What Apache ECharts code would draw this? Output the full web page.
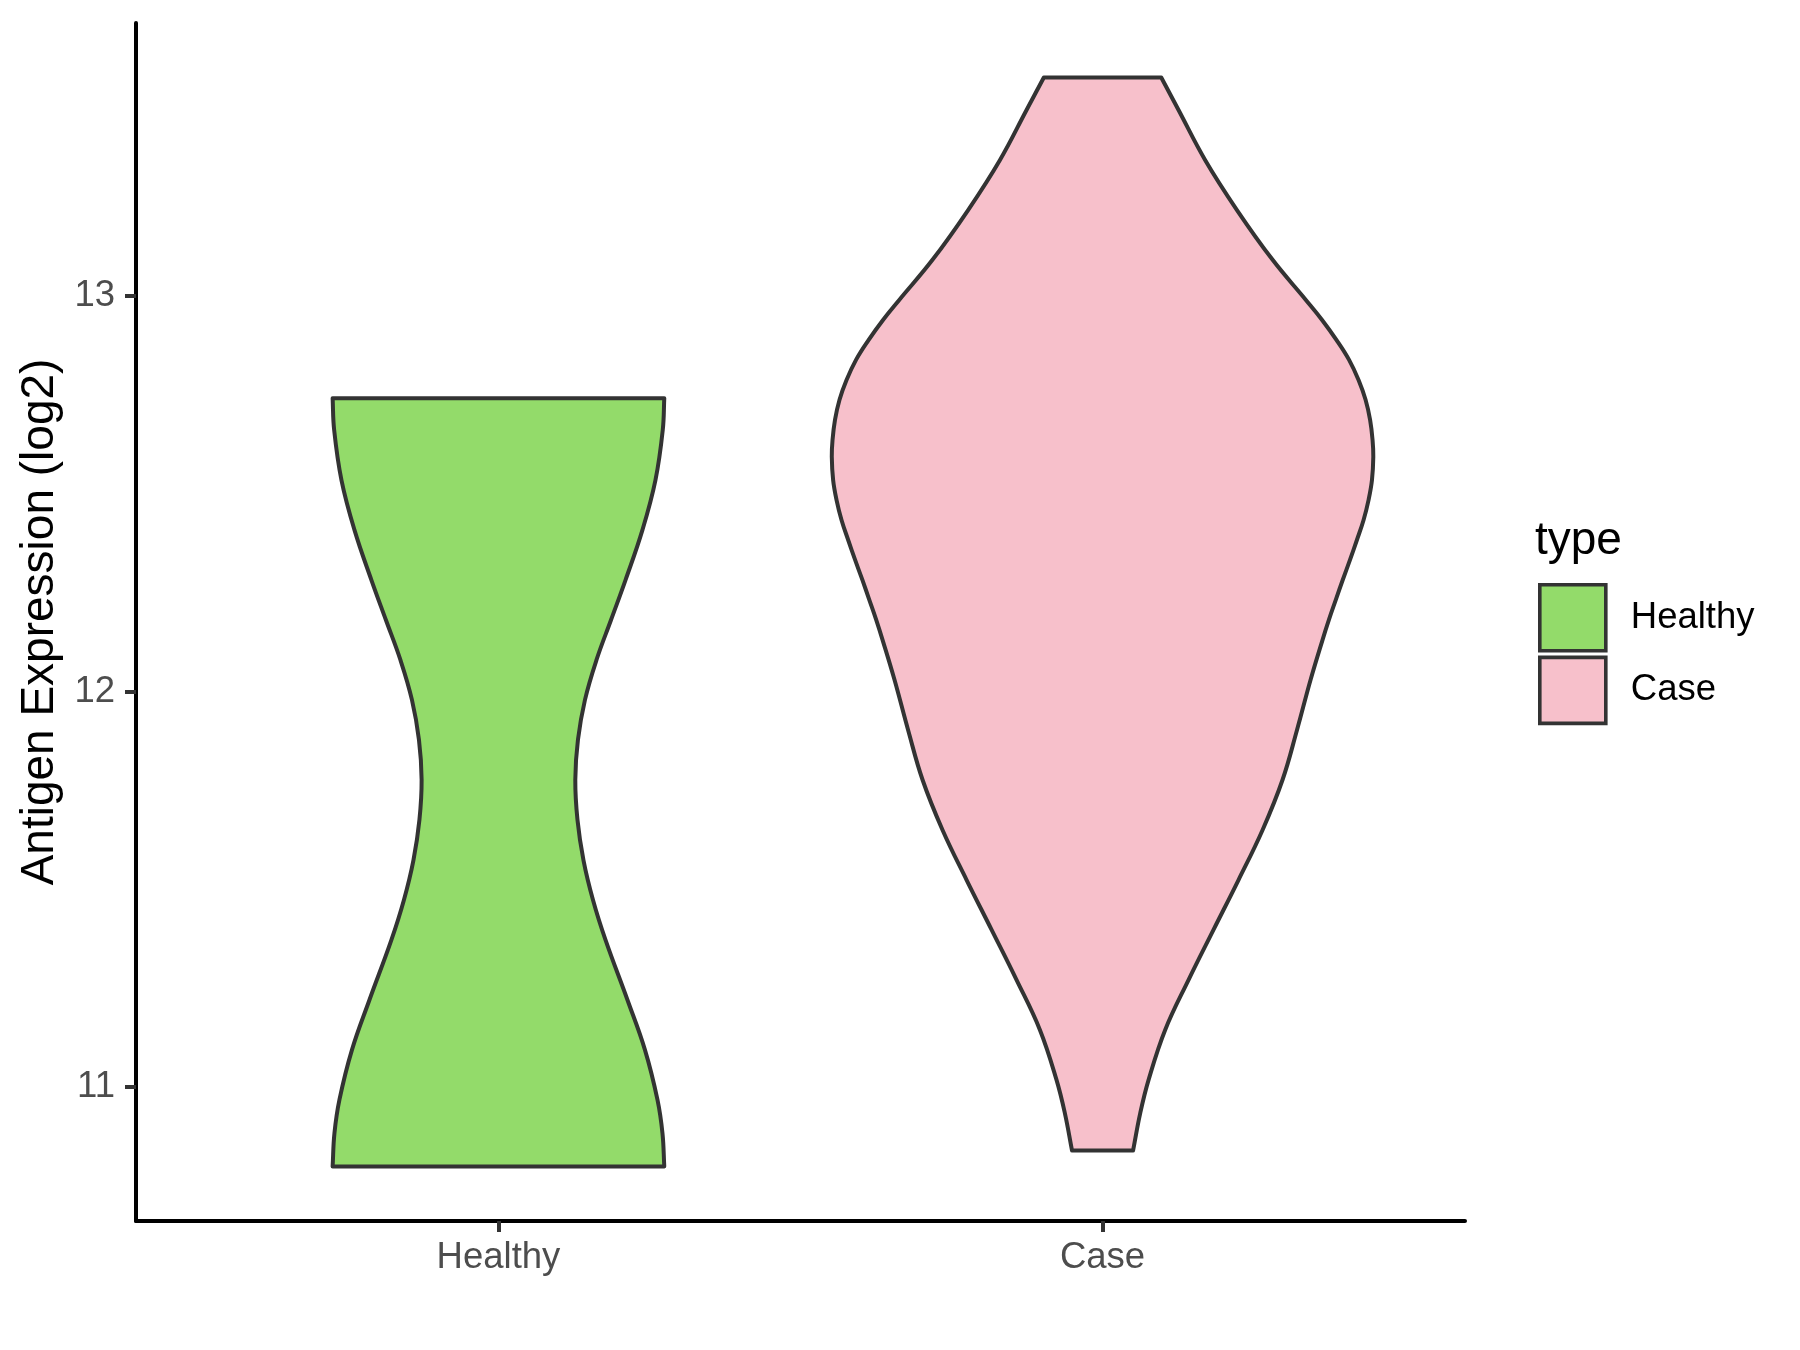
<!DOCTYPE html>
<html>
<head>
<meta charset="utf-8">
<script src="https://cdn.jsdelivr.net/npm/echarts@6/dist/echarts.min.js"></script>
<style>
html, body { margin: 0; padding: 0; background: #ffffff; }
#chart { width: 1800px; height: 1350px; }
</style>
</head>
<body>
<div id="chart"></div>
<script>
// ---- data ----
const categories = ['Healthy', 'Case'];
const yTicks = [11, 12, 13];
const xPositions = [1, 2];

// violin outline: expression values (top to bottom) and half-widths (x-axis units)
const healthyValues = [12.742, 12.662, 12.535, 12.409, 12.282, 12.181, 12.080, 11.979, 11.878, 11.777, 11.676, 11.574, 11.473, 11.372, 11.220, 11.094, 10.968, 10.883, 10.799];
const healthyWidths = [0.2745, 0.2720, 0.2599, 0.2384, 0.2103, 0.1863, 0.1623, 0.1432, 0.1316, 0.1272, 0.1308, 0.1407, 0.1565, 0.1772, 0.2136, 0.2425, 0.2632, 0.2715, 0.2745];

const caseValues = [13.553, 13.471, 13.344, 13.218, 13.092, 12.990, 12.940, 12.889, 12.839, 12.788, 12.738, 12.687, 12.636, 12.594, 12.535, 12.485, 12.434, 12.384, 12.333, 12.283, 12.232, 12.182, 12.131, 12.030, 11.903, 11.777, 11.650, 11.524, 11.398, 11.271, 11.145, 11.018, 10.934, 10.839];
const caseWidths = [0.0972, 0.1258, 0.1700, 0.2225, 0.2815, 0.3369, 0.3634, 0.3874, 0.4081, 0.4238, 0.4354, 0.4429, 0.4470, 0.4482, 0.4460, 0.4404, 0.4321, 0.4212, 0.4096, 0.3977, 0.3861, 0.3748, 0.3642, 0.3444, 0.3219, 0.2980, 0.2649, 0.2252, 0.1838, 0.1424, 0.1038, 0.0762, 0.0624, 0.0505];

const profiles = [
  { values: healthyValues, widths: healthyWidths },
  { values: caseValues, widths: caseWidths }
];
const fills = ['#93DB6A', '#F7C0CB'];
const FONT = '"Liberation Sans", Arial, Helvetica, sans-serif';

function makeRender(idx) {
  return function (params, api) {
    const pos = api.value(0);
    const prof = profiles[idx];
    const n = prof.values.length;
    const pts = [];
    // right side, top to bottom (end points doubled so the flat ends stay straight)
    for (let j = 0; j < n; j++) {
      const p = api.coord([pos + prof.widths[j], prof.values[j]]);
      pts.push(p);
      if (j === 0 || j === n - 1) pts.push(p.slice());
    }
    // left side, bottom to top
    for (let j = n - 1; j >= 0; j--) {
      const p = api.coord([pos - prof.widths[j], prof.values[j]]);
      pts.push(p);
      if (j === 0 || j === n - 1) pts.push(p.slice());
    }
    return {
      type: 'polygon',
      shape: { points: pts, smooth: 0.4 },
      style: { fill: fills[idx], stroke: '#333333', lineWidth: 4, lineJoin: 'round' }
    };
  };
}

const chart = echarts.init(document.getElementById('chart'), null, { renderer: 'canvas' });
chart.setOption({
  backgroundColor: '#ffffff',
  animation: false,
  title: {
    text: 'type',
    left: 1535,
    top: 518,
    padding: 0,
    textStyle: { fontFamily: FONT, fontSize: 46, fontWeight: 'normal', color: '#000000' }
  },
  legend: {
    orient: 'vertical',
    left: 1538,
    top: 583,
    padding: 0,
    itemWidth: 66,
    itemHeight: 66,
    itemGap: 3,
    icon: 'rect',
    itemStyle: { borderColor: '#333333', borderWidth: 3.6 },
    textStyle: { fontFamily: FONT, fontSize: 36.5, color: '#000000', padding: [0, 0, 0, 20] },
    data: categories
  },
  grid: { left: 136, top: 23, right: 335, bottom: 129 },
  xAxis: {
    type: 'value',
    min: 0.4,
    max: 2.6,
    splitLine: { show: false },
    axisLine: { onZero: false, lineStyle: { color: '#000000', width: 4 } },
    axisTick: { customValues: xPositions, length: 11, lineStyle: { color: '#333333', width: 4 } },
    axisLabel: {
      customValues: xPositions,
      formatter: function (v) { return categories[Math.round(v) - 1]; },
      margin: 18,
      fontFamily: FONT, fontSize: 36.5, color: '#4D4D4D'
    }
  },
  yAxis: {
    type: 'value',
    min: 10.661,
    max: 13.691,
    name: 'Antigen Expression (log2)',
    nameLocation: 'middle',
    nameGap: 70,
    nameTextStyle: { fontFamily: FONT, fontSize: 46, color: '#000000' },
    splitLine: { show: false },
    axisLine: { onZero: false, lineStyle: { color: '#000000', width: 4 } },
    axisTick: { customValues: yTicks, length: 11, lineStyle: { color: '#333333', width: 4 } },
    axisLabel: {
      customValues: yTicks,
      margin: 21,
      fontFamily: FONT, fontSize: 36.5, color: '#4D4D4D'
    }
  },
  series: categories.map(function (name, i) {
    return {
      type: 'custom',
      name: name,
      itemStyle: { color: fills[i], borderColor: '#333333', borderWidth: 3.6 },
      encode: { x: 0, y: 1 },
      data: [[xPositions[i], profiles[i].values[0]]],
      renderItem: makeRender(i)
    };
  })
});
</script>
</body>
</html>
